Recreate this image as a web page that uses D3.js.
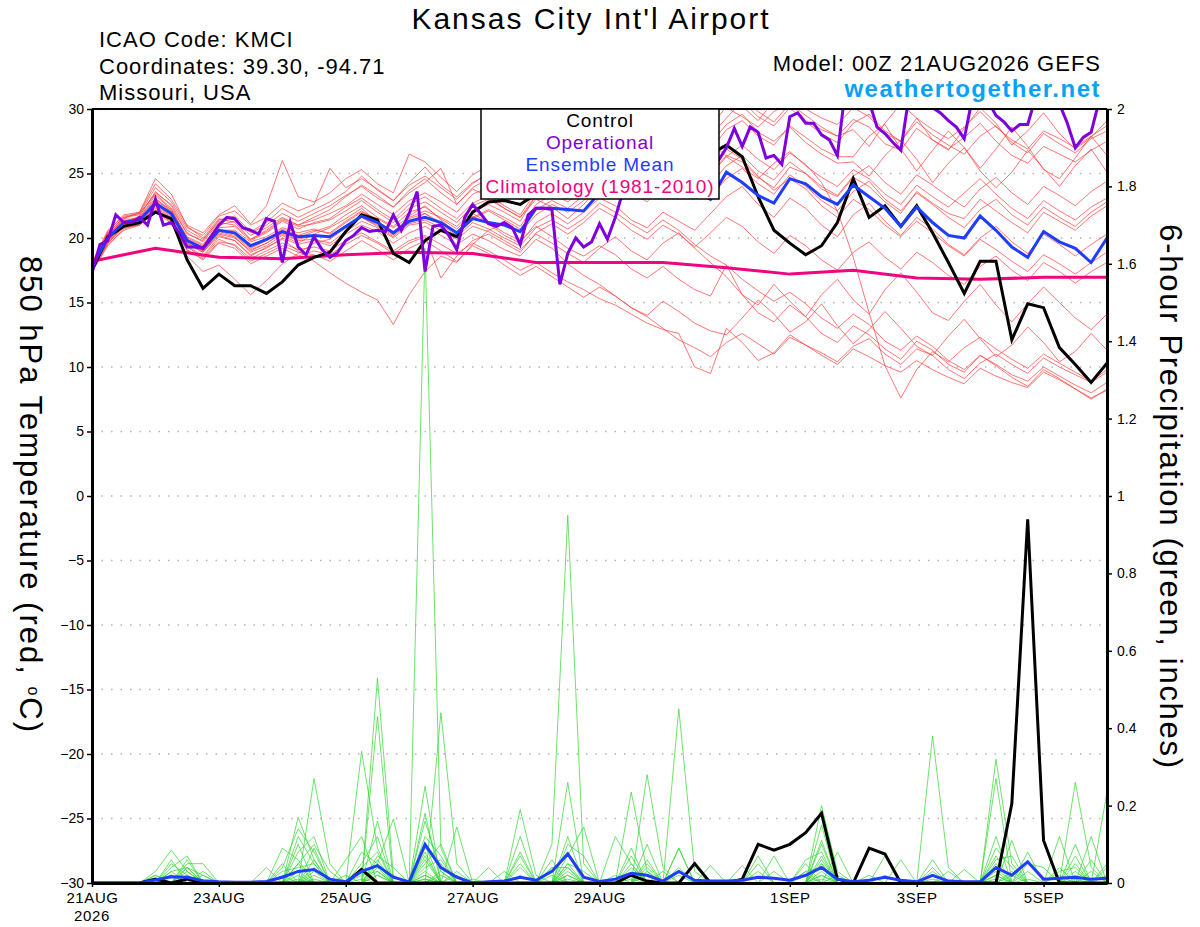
<!DOCTYPE html>
<html>
<head>
<meta charset="utf-8">
<script src="https://cdn.jsdelivr.net/npm/d3@7"></script>
<style>
  body { margin: 0; background: #fff; }
  svg { display: block; font-family: "Liberation Sans", Arial, Helvetica, sans-serif; }
</style>
</head>
<body>
<svg id="chart" width="1200" height="927"></svg>
<script>
// GEFS meteogram, 00Z 21AUG2026 run, KMCI
const runTime = "2026-08-21 00";
const forecastDays = 16;

const tempTicks = [-30, -25, -20, -15, -10, -5, 0, 5, 10, 15, 20, 25, 30];
const precipTicks = [0, 0.2, 0.4, 0.6, 0.8, 1, 1.2, 1.4, 1.6, 1.8, 2];
const dateTicks = ["2026-08-21", "2026-08-23", "2026-08-25", "2026-08-27", "2026-08-29", "2026-09-01", "2026-09-03", "2026-09-05"];
const dateLabels = ["21AUG", "23AUG", "25AUG", "27AUG", "29AUG", "1SEP", "3SEP", "5SEP"];

// 850 hPa temperature, 6-hourly (degC)
const controlTemp = [17.5,20.1,20.9,21.2,22.0,21.5,18.3,16.1, 17.2,16.3,16.3,15.7,16.6,17.9,18.5,18.9,
  20.5,21.8,21.4,18.8,18.1,19.8,20.6,20.1, 22.0,22.8,22.9,22.6,23.4,23.8,24.3,24.6,
  25.0,24.7,25.3,25.8,25.4,25.9,26.0,26.5, 27.2,26.3,23.2,20.6,19.6,18.7,19.4,21.2,
  24.6,21.6,22.5,20.9,22.5,20.4,18.1,15.7, 18.2,18.2,12.1,14.9,14.6,11.5,10.2,8.8, 10.3];

const meanTemp = [17.8,20.0,21.2,21.4,22.7,21.9,19.8,19.2, 20.6,20.4,19.4,19.9,20.5,20.1,20.2,20.1,
  20.9,21.7,21.2,20.4,21.3,21.6,21.2,20.4, 21.5,21.2,21.0,20.5,22.3,22.3,22.2,22.1,
  23.5,23.8,24.0,23.7,23.4,23.6,23.8,23.0, 25.1,24.3,23.3,22.7,24.6,24.2,23.2,22.6,
  24.1,23.2,22.3,20.9,22.4,21.2,20.2,20.0, 21.7,20.6,19.3,18.5,20.5,19.7,19.2,18.1, 20.0];

// operational run, 3-hourly
const operTemp = [17.3,19.5,19.8,21.8,21.2,21.2,21.6,21.0, 23.0,21.0,21.2,20.4,19.3,19.3,19.2,20.1,
  21.0,21.6,21.5,20.8,20.6,20.3,21.5,21.3, 18.1,21.2,19.3,18.7,20.1,19.1,18.5,18.9,
  19.8,20.2,20.8,20.5,20.6,20.5,21.8,20.6, 21.9,23.6,17.4,20.9,21.0,20.2,19.1,21.6,
  22.6,21.9,21.1,20.9,21.2,20.8,19.5,21.8, 22.3,22.3,22.2,16.4,18.8,20.0,19.3,19.7,
  21.1,19.9,21.6,23.7,24.5,25.0,25.6,26.2, 25.8,26.9,26.3,27.4,26.8,26.2,25.5,26.0,
  27.0,28.5,27.1,28.6,28.2,26.2,26.4,25.7, 29.4,29.7,28.9,28.9,28.0,27.6,26.4,31.5,
  32.4,31.8,30.6,28.6,28.1,27.4,26.8,30.9, 32.1,31.3,30.1,29.7,29.1,28.6,27.7,30.8,
  31.9,30.6,29.5,29.0,28.3,28.8,28.8,30.9, 32.0,31.4,30.4,28.9,27.0,27.8,28.2,30.6, 31.8];

// daily climatology (1981-2010)
const climTemp = [18.2,19.2,18.5,18.4,18.7,18.9,18.8,18.1,18.1,18.1,17.7,17.2,17.5,16.9,16.8,16.95,16.95];

const tempMembers = [
  [17.5,19.8,21.0,21.5,23.0,22.2,20.1,19.5, 21.0,21.3,20.2,20.8,21.6,21.0,21.4,21.9, 22.5,23.4,22.6,21.8,22.9,23.5,22.8,22.0,
   23.4,23.9,23.1,22.5,24.6,25.2,24.8,25.5, 27.0,27.8,26.9,28.2,29.5,28.7,30.4,31.2, 30.1,29.4,28.6,29.8,30.5,29.1,28.4,27.9,
   29.2,28.6,27.3,26.8,28.5,27.6,26.9,27.8, 28.9,27.5,26.4,25.8,27.1,26.5,25.9,26.8, 27.5],
  [17.9,20.3,21.4,21.2,22.4,21.5,19.4,18.6, 20.1,19.8,18.7,19.2,20.0,19.5,19.8,19.4, 20.3,21.0,20.5,19.6,20.4,20.9,20.2,19.5,
   20.3,19.8,19.1,18.6,19.9,19.2,18.0,17.1, 16.4,15.5,14.6,13.9,13.0,12.1,11.5,10.8, 11.9,12.6,11.8,11.0,12.3,11.7,10.9,10.2,
   11.4,10.8,10.1,9.6,10.5,9.8,9.2,8.7, 9.9,9.3,8.8,8.4,9.6,9.0,8.3,7.6, 8.2],
  [17.6,19.6,20.8,21.0,22.1,21.3,19.0,18.4, 19.7,19.5,18.4,19.0,19.6,19.1,19.3,19.0, 19.8,20.4,19.7,19.0,19.8,20.2,19.5,18.8,
   19.6,19.0,18.3,17.5,18.1,17.3,16.6,16.0, 15.3,14.8,14.1,13.4,12.9,12.6,10.0,9.5, 13.0,11.9,10.5,11.1,12.5,11.7,11.1,10.4,
   11.6,12.2,11.0,10.2,11.4,10.9,9.8,9.1, 10.3,11.0,10.2,9.5,10.7,10.0,9.4,8.8, 9.6],
  [18.0,20.5,21.8,22.0,24.2,23.0,21.0,20.4, 21.8,22.5,21.1,22.5,26.0,23.2,22.8,23.5, 24.6,25.3,24.2,23.5,26.5,25.9,24.7,23.6,
   24.9,25.6,24.3,23.8,25.7,26.4,25.9,27.1, 28.4,29.3,28.1,29.6,30.8,29.9,31.5,32.0, 30.9,30.2,29.1,30.6,31.4,30.0,29.3,28.8,
   30.1,29.4,28.1,27.5,29.3,28.4,27.7,28.6, 29.8,28.6,27.6,26.9,28.3,27.7,27.0,27.9, 28.7],
  [17.4,19.4,20.7,21.1,22.6,21.8,19.6,18.9, 20.2,19.8,18.6,19.3,19.9,19.0,18.2,17.3, 16.5,15.8,15.2,13.3,15.6,17.4,18.6,18.1,
   19.5,20.6,21.1,20.4,21.8,22.6,22.0,22.9, 24.1,24.8,23.9,25.0,26.2,25.4,26.8,27.5, 26.3,25.5,24.6,25.8,26.7,25.6,24.7,24.0,
   25.3,24.6,23.4,22.6,24.1,23.2,22.4,23.5, 24.6,23.4,22.3,21.5,22.9,22.1,21.4,22.4, 23.1],
  [17.7,20.1,21.3,21.6,23.1,22.0,19.9,19.3, 20.7,20.3,19.2,19.8,20.6,20.0,20.5,20.9, 21.8,22.5,21.6,20.9,22.0,22.4,21.5,20.7,
   21.9,21.2,20.4,19.8,20.9,20.1,19.2,18.6, 19.4,18.7,17.6,16.9,17.8,16.8,16.0,15.5, 17.9,15.6,14.8,16.4,15.1,13.9,15.6,16.8,
   15.2,14.1,16.0,17.3,15.8,14.2,13.6,15.1, 16.4,14.8,13.5,14.9,16.2,15.0,13.8,12.9, 14.1],
  [17.8,20.0,21.2,21.7,23.6,22.5,20.3,19.8, 21.4,21.7,20.5,21.2,22.3,21.6,22.2,22.8, 23.6,24.8,23.7,22.9,24.3,25.5,24.1,23.2,
   24.3,24.9,23.8,23.0,24.9,25.8,24.9,26.0, 27.3,28.4,27.2,26.5,27.9,29.2,28.0,27.3, 28.8,29.6,28.2,27.5,28.6,27.4,26.5,25.8,
   25.9,24.8,26.4,27.6,26.1,24.3,25.8,27.0, 25.2,23.9,25.1,26.8,25.4,24.0,25.6,26.9, 25.1],
  [17.6,19.9,21.1,21.3,22.5,21.6,19.5,18.9, 20.3,20.0,19.0,19.6,20.3,19.8,19.9,19.6, 20.5,21.3,20.8,20.0,21.0,21.2,20.6,19.9,
   20.9,20.5,19.8,19.1,20.3,19.6,18.8,18.1, 19.2,20.1,19.0,18.3,19.6,20.4,19.2,18.1, 17.0,15.6,14.2,13.5,14.8,13.9,12.6,11.9,
   13.2,12.5,11.4,10.6,12.0,11.3,10.2,9.6, 10.9,10.1,9.2,8.5,9.8,9.1,8.3,7.5, 8.3],
  [17.9,20.2,21.5,21.4,22.8,21.9,19.9,19.2, 20.6,20.6,19.7,20.1,20.8,20.4,20.7,20.3, 21.2,22.0,21.5,20.8,21.6,22.1,21.6,20.9,
   22.0,22.6,22.0,21.3,23.3,23.9,23.5,24.2, 25.4,26.0,25.2,24.6,25.8,26.6,25.7,25.0, 26.4,25.9,24.7,23.9,25.5,25.0,23.8,23.2,
   24.7,24.0,22.8,21.9,23.6,22.7,21.9,21.5, 23.0,22.1,21.2,20.4,22.0,21.3,20.6,21.7, 22.5],
  [17.5,19.7,20.9,21.2,22.3,21.4,19.3,18.5, 19.9,19.4,18.2,18.8,19.4,18.9,18.7,18.2, 19.0,19.8,19.1,18.3,19.2,19.8,19.0,18.2,
   19.4,18.8,17.9,17.1,17.8,17.0,16.2,15.4, 16.2,15.5,14.6,14.0,15.1,14.3,13.4,12.8, 12.5,13.8,15.2,14.1,12.7,13.5,14.9,13.2,
   11.8,12.9,14.3,13.0,11.6,10.9,12.4,13.7, 12.2,10.8,11.7,13.1,11.9,10.4,11.2,12.6, 11.3],
  [18.1,20.6,21.7,21.9,23.9,22.8,20.8,20.2, 21.7,22.1,21.0,21.6,22.7,22.1,22.6,25.4, 23.9,24.6,23.8,22.9,24.1,24.8,23.9,23.0,
   24.2,25.1,24.6,23.8,25.4,26.3,25.7,26.8, 27.9,28.7,27.6,27.0,28.5,29.6,28.5,27.9, 29.3,30.6,29.4,28.7,30.1,29.0,28.1,27.4,
   28.9,29.6,28.3,27.5,29.0,28.0,27.2,26.5, 27.9,28.7,27.4,26.6,28.1,27.3,26.6,27.7, 28.3],
  [17.6,19.8,21.0,21.4,22.9,22.1,19.8,19.0, 20.4,20.1,18.9,19.4,20.2,19.6,20.3,20.8, 21.5,22.3,21.2,20.3,21.7,22.5,21.4,20.4,
   21.7,21.1,20.2,19.6,21.2,21.9,21.1,22.0, 23.1,22.5,21.4,20.8,22.0,21.3,20.6,21.9, 23.2,24.0,22.6,21.6,23.1,22.3,21.0,20.1,
   21.8,22.7,21.3,20.2,21.6,20.7,19.5,18.7, 20.0,20.9,19.7,18.8,20.3,19.5,18.6,19.5, 20.3],
  [17.7,20.0,21.2,21.3,22.6,21.7,19.6,19.0, 20.5,20.2,19.1,19.6,20.4,19.9,20.2,20.0, 20.9,21.6,21.0,20.2,21.1,21.4,20.8,20.1,
   21.2,20.7,20.0,19.4,20.8,21.4,20.7,21.5, 22.7,22.0,21.1,20.4,21.4,20.6,19.5,18.6, 17.9,16.8,15.9,15.1,15.8,14.9,13.8,13.0,
   14.1,13.3,12.0,11.3,12.4,11.6,10.5,9.8, 10.9,10.2,9.4,8.9,10.0,9.3,8.6,8.0, 8.8],
  [17.8,20.1,21.3,21.6,23.3,22.2,20.0,19.4, 20.8,20.9,19.8,20.4,21.3,20.7,21.2,21.5, 22.4,23.1,22.2,21.4,22.6,23.2,22.3,21.5,
   22.7,23.3,22.5,21.8,23.6,24.4,23.8,24.9, 26.1,26.9,25.8,25.0,26.4,27.4,26.2,25.4, 26.9,26.1,24.8,23.7,24.6,23.8,22.5,21.6,
   23.0,22.2,21.0,20.1,21.3,20.4,19.4,18.6, 19.9,19.1,18.2,17.4,18.7,18.0,17.2,18.1, 18.9],
  [17.9,20.4,21.6,21.8,23.5,22.6,20.6,19.9, 21.3,21.5,20.4,21.0,21.9,21.3,21.9,22.5, 23.3,24.0,23.1,22.4,23.5,24.3,25.4,22.6,
   23.9,24.6,23.9,23.1,24.8,25.8,25.3,26.6, 27.8,28.9,28.0,27.2,28.9,30.3,29.4,28.6, 30.2,31.0,29.8,29.0,30.4,29.5,28.6,27.9,
   28.4,27.1,28.9,30.4,29.3,27.6,26.8,28.5, 30.1,28.9,27.2,28.3,29.7,28.1,26.9,27.8, 29.1],
  [17.4,19.5,20.6,21.0,22.2,21.2,19.1,18.3, 19.6,19.2,18.0,18.6,19.2,18.6,19.0,18.7, 19.5,20.2,19.6,18.8,19.6,20.1,16.9,18.6,
   19.8,20.3,19.6,18.9,20.4,21.1,20.3,21.2, 22.3,21.6,20.6,19.9,21.0,20.3,19.3,20.4, 21.6,20.9,19.7,18.8,20.2,19.4,18.3,17.5,
   18.9,19.7,18.5,17.6,18.9,18.1,17.1,16.4, 17.8,18.6,17.5,16.7,18.1,17.4,16.5,17.4, 18.1],
  [17.7,20.2,21.5,22.0,24.6,23.4,20.9,20.0, 21.5,21.2,19.9,20.6,21.5,21.0,21.6,22.2, 23.2,24.1,23.3,22.4,23.7,24.6,23.5,22.6,
   23.8,23.2,22.3,21.6,23.0,22.4,21.5,22.6, 24.0,24.8,23.6,22.8,24.2,25.3,24.1,23.2, 24.6,25.4,24.2,23.4,24.9,24.0,22.9,22.1,
   23.6,24.4,23.0,22.1,23.5,22.6,21.6,20.8, 22.2,23.0,21.8,21.0,22.4,21.6,20.9,22.0, 22.8],
  [17.5,19.6,20.9,21.0,22.1,21.1,18.6,17.4, 17.9,16.8,15.6,16.7,18.0,18.8,19.6,19.9, 20.8,21.6,20.9,20.1,21.2,21.9,21.0,20.2,
   21.5,22.1,21.4,20.7,22.2,22.9,22.3,23.3, 24.6,25.5,24.4,23.6,25.0,26.1,25.0,24.2, 25.6,26.4,25.2,24.5,25.9,25.0,24.0,23.3,
   24.8,25.6,24.3,23.4,24.9,24.1,23.2,22.4, 23.8,24.7,23.5,22.6,24.0,23.3,22.5,23.6, 24.4],
  [18.0,20.4,21.6,21.9,23.4,22.3,20.4,19.7, 21.2,21.0,19.9,20.5,21.4,20.9,21.1,21.4, 22.1,22.9,22.0,21.2,22.3,22.8,22.0,21.2,
   22.5,23.0,22.3,21.6,23.3,24.2,23.7,24.8, 26.1,27.2,26.4,25.7,27.3,28.6,27.6,26.8, 28.4,29.1,27.9,27.2,28.7,27.8,26.9,26.3,
   26.3,27.9,28.8,26.9,25.2,26.8,28.3,27.0, 25.4,26.9,28.6,27.1,25.3,24.6,26.2,27.9, 26.4],
  [17.6,19.9,21.1,21.5,22.8,21.8,19.7,19.1, 20.6,20.4,19.3,19.9,20.7,20.2,20.6,20.4, 21.3,22.1,21.3,20.5,21.5,21.9,21.2,20.4,
   21.6,22.2,21.6,20.9,22.6,23.4,22.8,23.8, 25.0,25.9,24.9,24.2,25.6,26.6,25.6,24.9, 26.3,27.2,26.1,25.3,26.6,25.7,24.3,22.1,
   18.5,14.2,10.1,7.6,9.8,11.2,10.4,11.5, 12.3,11.4,10.6,9.9,11.0,10.3,9.6,8.9, 9.8]
];

// 6-hour precipitation (inches), 6-hourly
const controlPrecip = [0,0,0,0,0.01,0,0.01,0, 0,0,0,0,0,0,0,0, 0,0.035,0,0,0,0,0,0, 0,0,0,0,0,0,0,0,
  0,0,0.02,0.005,0,0,0.05,0, 0,0.01,0.10,0.085,0.10,0.13,0.18,0.01, 0,0.09,0.075,0,0,0,0,0,
  0,0,0.205,0.94,0.11,0,0,0, 0];
const meanPrecip = [0,0,0,0,0.008,0.016,0.015,0.006, 0.003,0.002,0.002,0.004,0.015,0.03,0.035,0.01,
  0.003,0.03,0.045,0.015,0.003,0.10,0.04,0.015, 0,0.003,0.005,0.015,0.007,0.03,0.075,0.015,
  0.004,0.01,0.025,0.02,0.005,0.03,0.007,0.005, 0.005,0.007,0.015,0.012,0.007,0.02,0.04,0.01,
  0.003,0.007,0.015,0.007,0.003,0.02,0.005,0.003, 0.003,0.04,0.02,0.055,0.01,0.012,0.015,0.01, 0.012];
// members: wet steps only (step index: inches), every other step is dry
const precipMembers = [
  {5:0.04,6:0.07,13:0.17,14:0.06,18:0.43,21:1.64,22:0.09,30:0.26,35:0.05,46:0.11,53:0.02,57:0.12,62:0.26,63:0.04},
  {4:0.03,5:0.085,6:0.03,12:0.09,13:0.06,17:0.34,18:0.09,22:0.44,23:0.05,29:0.10,30:0.95,31:0.05,37:0.09,46:0.2,47:0.03,57:0.32,58:0.05},
  {6:0.05,7:0.05,14:0.27,15:0.05,18:0.53,19:0.02,21:0.25,27:0.19,28:0.02,34:0.235,35:0.03,42:0.07,53:0.38,54:0.04,61:0.12,64:0.235},
  {5:0.06,12:0.04,13:0.14,14:0.08,17:0.08,18:0.05,19:0.165,21:0.18,23:0.145,27:0.12,30:0.07,31:0.145,35:0.28,36:0.04,43:0.07,46:0.15,55:0.035,58:0.11,63:0.12},
  {4:0.02,6:0.04,11:0.04,13:0.1,16:0.06,17:0.12,21:0.09,22:0.05,25:0.04,29:0.06,33:0.12,34:0.05,37:0.45,38:0.03,45:0.06,46:0.08,57:0.27,59:0.08,62:0.05},
  {5:0.03,7:0.03,13:0.08,14:0.12,18:0.16,21:0.12,22:0.07,27:0.08,30:0.12,34:0.07,37:0.09,41:0.045,45:0.05,47:0.08,50:0.07,57:0.06,58:0.07,62:0.1,64:0.04},
  {6:0.06,12:0.05,14:0.09,17:0.05,18:0.12,21:0.07,24:0.01,27:0.04,29:0.04,30:0.04,35:0.1,39:0.045,46:0.1,51:0.06,53:0.06,57:0.05,61:0.04},
  {5:0.05,6:0.02,13:0.12,14:0.05,16:0.02,18:0.06,21:0.16,22:0.03,26:0.03,30:0.1,31:0.07,34:0.04,36:0.03,42:0.05,46:0.05,53:0.04,59:0.05,60:0.04,63:0.06},
  {4:0.01,5:0.02,12:0.03,13:0.04,14:0.05,18:0.07,19:0.04,21:0.05,22:0.1,27:0.07,30:0.05,31:0.03,35:0.06,45:0.03,46:0.04,49:0.02,57:0.09,58:0.04,62:0.07},
  {6:0.04,7:0.02,13:0.05,14:0.1,15:0.03,17:0.04,18:0.08,21:0.1,23:0.03,29:0.03,30:0.08,34:0.09,37:0.04,46:0.07,54:0.03,57:0.03,61:0.03,62:0.04,64:0.05},
  {5:0.03,6:0.04,14:0.06,18:0.04,21:0.06,27:0.02,30:0.05,35:0.03,46:0.06,50:0.02,57:0.07,62:0.02},
  {4:0.02,13:0.03,17:0.02,18:0.03,21:0.04,22:0.06,30:0.03,34:0.05,42:0.03,45:0.03,53:0.03,58:0.03,64:0.02},
  {6:0.03,12:0.02,14:0.04,18:0.05,21:0.03,23:0.02,29:0.04,33:0.02,37:0.03,46:0.03,57:0.04,61:0.02},
  {5:0.02,13:0.05,17:0.03,21:0.08,27:0.05,30:0.02,35:0.04,43:0.03,46:0.05,59:0.03,62:0.03},
  {7:0.02,14:0.03,18:0.02,22:0.03,30:0.04,34:0.02,46:0.02,57:0.02,63:0.03},
  {6:0.02,13:0.02,18:0.03,21:0.02,30:0.02,37:0.02,45:0.02,58:0.02},
  {5:0.02,14:0.02,21:0.02,29:0.02,35:0.02,46:0.02,57:0.02},
  {13:0.01,18:0.02,22:0.02,30:0.01,47:0.02,62:0.01},
  {6:0.01,17:0.01,21:0.01,34:0.01,53:0.01,59:0.01},
  {14:0.01,21:0.01,46:0.01,57:0.01}
];

(function(d3) {
  const svg = d3.select("#chart");
  const m = {left: 92, right: 1107, top: 109, bottom: 883};

  const t0 = d3.utcParse("%Y-%m-%d %H")(runTime);
  const at = h => d3.utcHour.offset(t0, h);
  const x = d3.scaleUtc().domain([t0, d3.utcDay.offset(t0, forecastDays)]).range([m.left, m.right]);
  const yT = d3.scaleLinear().domain([-30, 30]).range([m.bottom, m.top]);
  const yP = d3.scaleLinear().domain([0, 2]).range([m.bottom, m.top]);

  const nSteps = controlTemp.length;
  const lineT = step => d3.line().x((d, i) => x(at(i * step))).y(d => yT(d));
  const lineP = d3.line().x((d, i) => x(at(i * 6))).y(d => yP(d));

  svg.append("clipPath").attr("id", "plotclip")
    .append("rect")
    .attr("x", m.left).attr("y", m.top)
    .attr("width", m.right - m.left).attr("height", m.bottom - m.top);

  // dotted grid on the temperature ticks
  svg.append("g")
    .selectAll("line")
    .data(tempTicks.filter(v => v > -30 && v < 30))
    .join("line")
    .attr("x1", m.left).attr("x2", m.right)
    .attr("y1", d => yT(d)).attr("y2", d => yT(d))
    .attr("stroke", "#b4b4b4").attr("stroke-width", 1.4)
    .attr("stroke-dasharray", "1.5,8");

  const plot = svg.append("g").attr("clip-path", "url(#plotclip)");

  plot.append("g").selectAll("path")
    .data(tempMembers)
    .join("path")
    .attr("d", lineT(6))
    .attr("fill", "none").attr("stroke", "#ff3b3b").attr("stroke-width", 0.7);

  const wetSeries = precipMembers.map(mem => d3.range(nSteps).map(i => mem[i] || 0));
  plot.append("g").selectAll("path")
    .data(wetSeries)
    .join("path")
    .attr("d", lineP)
    .attr("fill", "none").attr("stroke", "#2fd62f").attr("stroke-width", 0.7);

  plot.append("path").datum(climTemp)
    .attr("d", lineT(24))
    .attr("fill", "none").attr("stroke", "#f0047f").attr("stroke-width", 3);

  plot.append("path").datum(controlTemp)
    .attr("d", lineT(6))
    .attr("fill", "none").attr("stroke", "#000").attr("stroke-width", 3);
  plot.append("path").datum(controlPrecip)
    .attr("d", lineP)
    .attr("fill", "none").attr("stroke", "#000").attr("stroke-width", 3);

  plot.append("path").datum(meanTemp)
    .attr("d", lineT(6))
    .attr("fill", "none").attr("stroke", "#1f3dff").attr("stroke-width", 3);
  plot.append("path").datum(meanPrecip)
    .attr("d", lineP)
    .attr("fill", "none").attr("stroke", "#1f3dff").attr("stroke-width", 3);

  plot.append("path").datum(operTemp)
    .attr("d", lineT(3))
    .attr("fill", "none").attr("stroke", "#7f00de").attr("stroke-width", 3);

  // axes
  const leftAxis = svg.append("g")
    .attr("transform", `translate(${m.left},0)`)
    .call(d3.axisLeft(yT).tickValues(tempTicks).tickSize(5).tickSizeOuter(0).tickPadding(3));
  const rightAxis = svg.append("g")
    .attr("transform", `translate(${m.right},0)`)
    .call(d3.axisRight(yP).tickValues(precipTicks).tickFormat(d => String(d)).tickSize(5).tickSizeOuter(0).tickPadding(5));
  const bottomAxis = svg.append("g")
    .attr("transform", `translate(0,${m.bottom})`)
    .call(d3.axisBottom(x).tickValues(dateTicks.map(d3.utcParse("%Y-%m-%d")))
      .tickFormat((d, i) => dateLabels[i]).tickSize(4).tickSizeOuter(0).tickPadding(5));

  [leftAxis, rightAxis, bottomAxis].forEach(g => {
    g.attr("font-family", null).attr("font-size", null);
    g.select(".domain").attr("stroke", "#000").attr("stroke-width", 3);
    g.selectAll(".tick line").attr("stroke", "#000").attr("stroke-width", 1.5);
    g.selectAll(".tick text").attr("fill", "#000").style("font-size", "14px");
  });
  bottomAxis.selectAll(".tick text").style("font-size", "15px").style("letter-spacing", "0.6px");

  svg.append("line")
    .attr("x1", m.left).attr("x2", m.right).attr("y1", m.top).attr("y2", m.top)
    .attr("stroke", "#000").attr("stroke-width", 2);

  svg.append("text").attr("x", m.left).attr("y", 921)
    .attr("text-anchor", "middle").style("font-size", "15px").style("letter-spacing", "0.6px")
    .text("2026");

  // legend
  const legend = svg.append("g");
  legend.append("rect")
    .attr("x", 481).attr("y", m.top).attr("width", 238).attr("height", 90)
    .attr("fill", "#fff").attr("stroke", "#000").attr("stroke-width", 1.5);
  const legendItems = [
    ["Control", "#000"],
    ["Operational", "#7f00de"],
    ["Ensemble Mean", "#1f3dff"],
    ["Climatology (1981-2010)", "#f0047f"]
  ];
  legend.selectAll("text")
    .data(legendItems)
    .join("text")
    .attr("x", 600).attr("y", (d, i) => 127 + i * 22)
    .attr("text-anchor", "middle")
    .style("font-size", "19px").style("letter-spacing", "0.9px")
    .attr("fill", d => d[1])
    .text(d => d[0]);

  // titles
  svg.append("text").attr("x", 591).attr("y", 29)
    .attr("text-anchor", "middle").style("font-size", "30px").style("letter-spacing", "2px")
    .text("Kansas City Int'l Airport");

  const info = ["ICAO Code: KMCI", "Coordinates: 39.30, -94.71", "Missouri, USA"];
  svg.append("g").selectAll("text")
    .data(info)
    .join("text")
    .attr("x", 99).attr("y", (d, i) => 47 + i * 26.5)
    .style("font-size", "22px").style("letter-spacing", "1px")
    .text(d => d);

  svg.append("text").attr("x", 1101).attr("y", 71)
    .attr("text-anchor", "end").style("font-size", "22px").style("letter-spacing", "1px")
    .text("Model: 00Z 21AUG2026 GEFS");
  svg.append("text").attr("x", 1101).attr("y", 97)
    .attr("text-anchor", "end").style("font-size", "24px").style("font-weight", "bold")
    .style("letter-spacing", "1.5px")
    .attr("fill", "#08a2f5")
    .text("weathertogether.net");

  const yLabel = svg.append("text")
    .attr("transform", "translate(20,495) rotate(90)")
    .attr("text-anchor", "middle").style("font-size", "31px").style("letter-spacing", "2px");
  yLabel.append("tspan").text("850 hPa Temperature (red, ");
  yLabel.append("tspan").attr("baseline-shift", "super").style("font-size", "16px").text("o");
  yLabel.append("tspan").text("C)");

  svg.append("text")
    .attr("transform", "translate(1160,497) rotate(90)")
    .attr("text-anchor", "middle").style("font-size", "31px").style("letter-spacing", "1.7px")
    .text("6-hour Precipitation (green, inches)");
})(d3);
</script>
</body>
</html>
